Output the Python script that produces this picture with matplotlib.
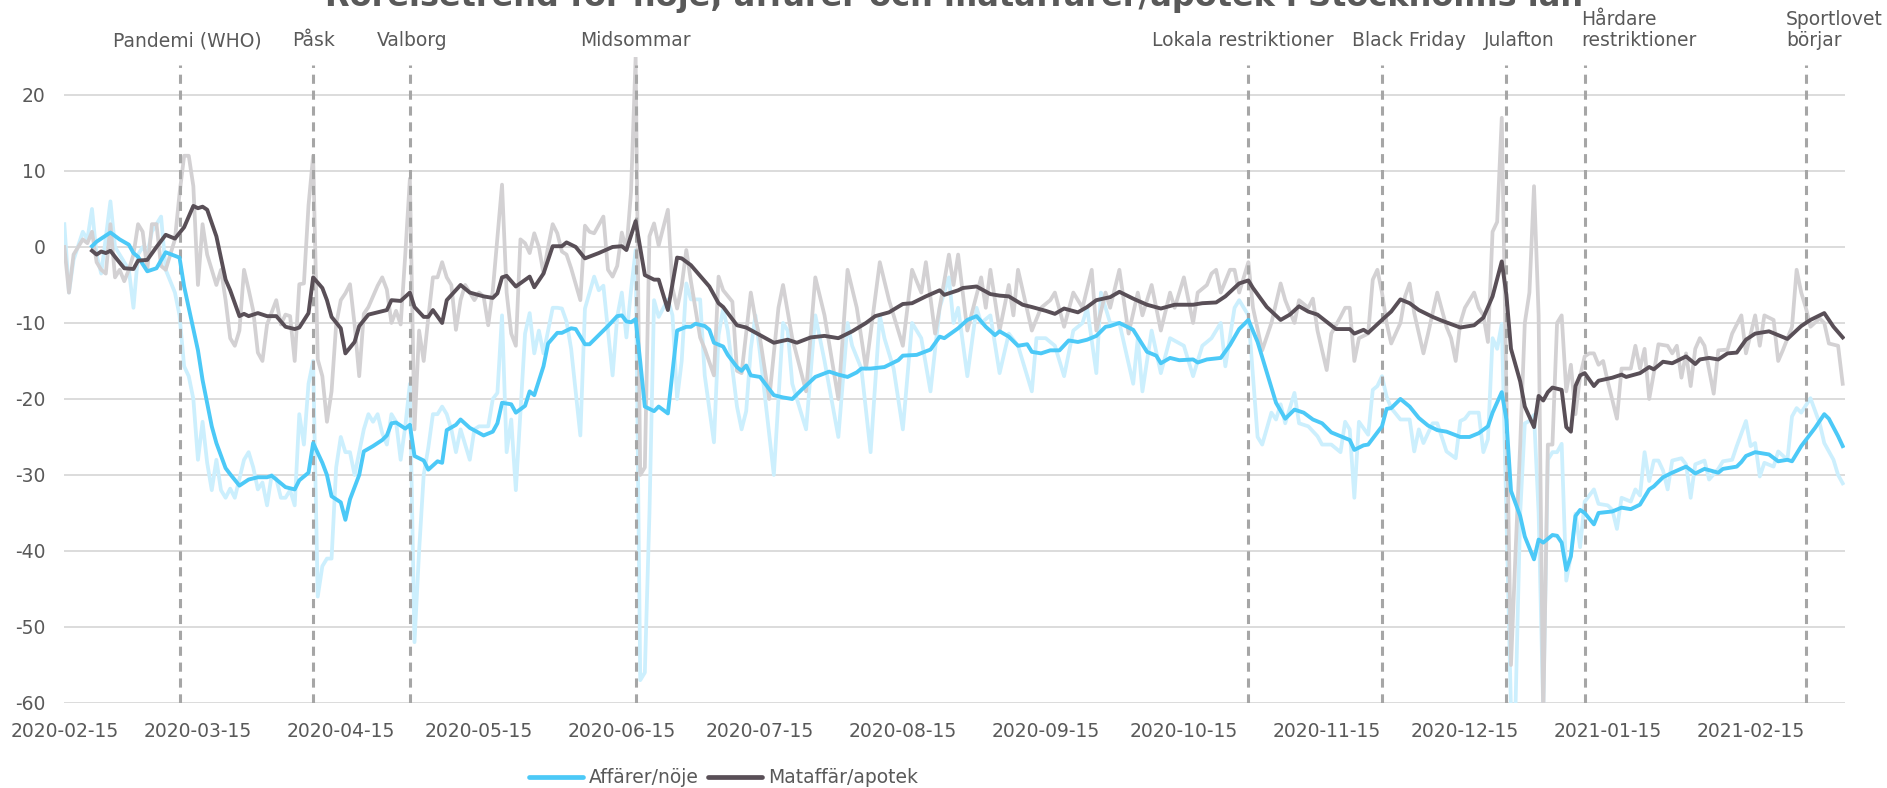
import numpy as np
import pandas as pd
import matplotlib
matplotlib.use("Agg")
import matplotlib.pyplot as plt
import matplotlib.dates as mdates
import matplotlib.transforms as mtransforms

plt.rcParams["font.family"] = ["DejaVu Sans"]
plt.rcParams["axes.unicode_minus"] = False

START = pd.Timestamp("2020-02-15")

# ---------------- data (day offset from 2020-02-15, value) ----------------
aff_daily_day = [0,1,2,4,5,6,7,8,10,11,12,14,15,16,17,18,19,21,22,24,25,26,27,28,29,30,31,32,33,34,35,36,37,39,40,41,42,43,44,45,46,47,48,49,50,
    51,52,53,54,55,56,57,58,59,60,61,62,63,64,65,66,67,68,69,70,71,72,73,74,75,76,77,78,79,80,81,82,83,84,85,86,88,89,90,92,93,94,95,96,97,98,
    100,101,102,103,104,106,107,108,109,110,112,113,115,116,117,118,119,120,121,122,123,124,125,126,127,128,129,131,132,133,134,135,136,138,139,
    141,142,143,144,146,147,148,149,150,151,154,156,157,158,161,163,164,165,168,170,171,173,175,177,178,180,182,184,186,188,190,192,193,194,196,
    198,199,201,203,205,207,210,211,213,215,217,219,221,222,224,225,227,229,232,233,234,236,238,240,243,245,247,249,251,252,254,255,257,258,259,
    260,262,263,264,265,267,268,270,272,273,275,277,278,279,280,281,283,284,285,286,287,288,290,292,293,294,295,297,298,300,302,303,304,305,307,
    308,309,310,311,312,313,314,315,316,317,318,319,320,321,322,323,324,325,326,327,328,329,330,332,333,335,336,337,338,340,341,342,343,344,345,
    346,347,348,349,351,352,353,354,356,357,359,360,362,363,365,366,367,368,369,371,372,374,375,376,377,379,381,382,384,385,386]
aff_daily_val = [3,-6,-1.7,2,1,5,-1,-3.5,6,0,-1,-3,-8,-1,0,-1,2,4,-3,-6,-9,-15.7,-17,-20,-28,-23,-28.4,-32,-28,-32,-33,-31.8,-33,-28,-27,-29,-31.9,-31,-34,-30,-30.5,-33,-33,-32,-34,
    -22,-26,-18,-15,-46,-42,-41,-41,-29,-25,-27,-27,-30,-27,-24,-22,-23,-22,-24.5,-26,-22,-23,-28,-23.6,-18,-52,-40,-30,-26.4,-22,-22,-21,-22,-24,-27,-24,-28,-24,-23.6,-23.6,-20,-19.2,-9,-27,-22.7,-32,
    -11.4,-8.7,-14,-11,-14,-8,-8,-8.1,-9.8,-13.4,-24.8,-8.1,-3.9,-5.7,-5.1,-11,-16.9,-9.2,-6,-11.9,-5.7,-0.4,-57,-56,-35,-7,-9.2,-6.9,-9,-20,-15,-4.8,-6.9,-6.9,-16.9,
    -25.7,-11.6,-8.1,-11,-21,-24,-21.6,-13.4,-9,-14,-30,-10,-11,-18,-24,-9,-12,-15,-25,-10,-13,-16,-27,-9,-12,-16,-24,-10,-12,-19,-8,-4,-10,-8,-17,
    -8,-10,-9,-16.6,-11.4,-13,-19,-12,-12,-13,-17,-11,-10,-8,-16.6,-6,-10,-10,-18,-12,-19,-11,-16.6,-12,-13,-17,-13,-12,-10,-15.7,-8,-7,-9,-17,-25,
    -26,-21.8,-22.7,-20.7,-23.2,-19.2,-23.2,-23.6,-24.9,-26,-26,-27,-23,-24,-33,-23,-24.7,-18.8,-18.3,-17,-19.7,-21.2,-22.7,-22.7,-26.9,-24,-25.8,-23.2,-23.2,-26.9,-27.8,-22.9,-22.6,-21.8,-21.8,
    -27,-25.3,-12,-13.4,-10.1,-35,-61,-60,-35,-23.2,-22.9,-22.1,-35,-61,-28,-27,-27,-25.9,-43.9,-40.6,-35.1,-39.5,-33.5,-31.9,-33.8,-34,-34.6,-37.1,-33,-33.5,-31.9,-32.7,-27,-30.8,-28.1,
    -28.1,-29.4,-31.9,-28.1,-27.8,-28.6,-33,-28.6,-28.1,-30.6,-29.2,-28.2,-28,-26.2,-22.9,-26.2,-25.8,-30.2,-28.4,-28.9,-26.9,-28,-22.3,-21.2,-21.8,-19.9,-23.2,-25.8,-28,-30,-31.1]

mat_daily_day = [0,1,2,4,5,6,7,8,9,10,11,12,13,14,15,16,17,18,19,20,21,22,23,24,25,26,27,28,29,30,31,32,33,34,35,36,37,38,39,40,41,42,43,44,46,47,48,49,50,
    51,52,53,54,55,56,57,58,59,60,61,62,63,64,65,66,68,69,70,71,72,73,74,75,76,77,78,79,80,81,82,83,84,85,86,87,88,89,90,91,92,93,95,96,97,98,99,
    100,101,102,103,104,105,106,107,108,109,110,112,113,114,115,117,118,119,120,121,122,123,124,125,126,127,128,129,131,132,133,134,135,136,138,139,
    141,142,143,145,146,147,149,150,151,153,155,156,158,161,163,165,168,170,172,174,177,179,182,184,186,187,189,192,193,194,196,199,200,201,203,
    205,206,207,210,212,214,215,217,219,221,223,224,226,227,229,231,233,234,236,238,240,241,243,245,246,248,249,250,251,253,254,255,257,258,260,
    262,264,265,267,268,270,271,272,274,275,277,278,279,280,281,283,284,285,286,287,288,290,291,292,293,295,296,297,298,300,301,302,303,304,306,
    307,308,309,310,311,312,313,314,315,316,317,318,319,320,321,322,323,324,325,326,327,328,329,330,331,332,333,334,335,337,338,340,341,342,343,
    344,345,346,348,349,350,351,352,353,354,355,356,358,359,361,362,364,365,367,368,369,371,372,373,375,376,377,378,379,381,382,383,385,386]
mat_daily_val = [0,-6,-1,1,0.5,2,-2,-3,-3.5,3,-4,-3,-4.5,-3,-1,3,2,-3,3,3,-2.5,-3,-1,1,7,12,12,8,-5,3,-1,-3,-5,-3,-7,-12,-13,-11,-3,-5.6,-8.4,-13.9,-15,-10.2,-7,-10.2,-8.9,-9.1,-15,
    -4.9,-4.8,5.5,12,-14.8,-17,-23,-19,-10.2,-7,-6.1,-4.9,-10.2,-17,-8.8,-7.9,-5.1,-4,-5.6,-10,-8.4,-10.2,-1,9,-24,-11,-15,-9.3,-4,-4,-2,-4,-5,-10.9,-7,-5,-6,-7,-6,-6.5,-10.3,-5.7,8.2,-6,-11.4,-13,1,
    0.5,-0.8,1.8,0,-3.5,0,3,1.8,-0.6,-1,-2.8,-7,2.8,2,1.8,4,-3,-3.9,-2.5,1.9,-0.4,7.2,25,-30,-29,1.4,3.1,0.2,4.9,-5.4,-8.1,-5.1,-0.4,-4.5,-11.9,-13.4,
    -16.9,-3.9,-5.7,-7.2,-16.3,-16.6,-6,-9.5,-12,-20,-8,-5,-12,-19,-4,-9,-20,-3,-8,-16,-2,-7,-13,-3,-6,-2,-11.4,-1,-5,-1,-11,-4,-8,-3,-11,
    -5,-9,-3,-11,-8,-7,-6,-10.5,-6,-8,-3,-11,-6,-8,-3,-11.4,-6,-9,-5,-11,-6,-8,-4,-10,-6,-5,-3.5,-3,-6,-3,-3,-6,-2,-8,-13.6,
    -10,-4.8,-7,-10,-7,-8,-6.8,-11,-16.2,-11.4,-9.2,-8,-8,-15,-12,-11.4,-4.3,-3,-6,-10,-12.7,-10,-6.5,-4.8,-8.7,-14,-11.4,-8.7,-6,-10.5,-12,-15,-10,-8,-6,
    -8,-9,-12.5,2,3.3,17,-19,-55,-40,-26,-10,-6,8,-9,-62,-26,-26,-10,-9,-19,-15.5,-22,-17,-14.4,-14,-14,-15.5,-15,-17.7,-22.6,-16,-16,-13,-16,-13.4,
    -20,-16.6,-12.8,-13,-14,-13,-17.2,-14,-18.3,-13.4,-12,-13,-19.3,-13.6,-13.5,-11.4,-9,-14,-9,-13,-9,-9.6,-15,-13.6,-10.5,-3,-6,-8,-10.5,-9.4,-10,-12.7,-13,-18]

aff_7d_day = [6,7,10,12,14,15,16,18,20,22,25,26,29,30,32,33,35,36,38,39,40,42,44,45,48,50,51,53,54,56,57,58,60,61,62,64,65,67,69,70,71,72,74,75,76,78,79,81,82,83,85,86,88,91,93,94,95,97,98,
    100,101,102,104,105,107,108,110,111,113,114,116,118,120,121,122,123,124,125,126,128,129,131,133,135,136,137,139,140,141,143,144,146,147,148,149,151,152,154,156,158,160,163,166,168,170,172,173,175,178,
    181,182,185,188,190,191,194,196,198,200,202,203,205,207,209,210,212,214,216,218,220,222,224,226,227,229,232,235,237,238,240,242,245,246,248,251,253,255,257,259,261,263,265,267,269,271,273,275,277,279,280,282,283,
    286,287,288,290,292,294,296,298,300,303,305,307,309,310,312,313,314,316,317,319,320,321,323,324,325,326,327,328,329,330,332,333,336,338,340,342,344,345,347,349,352,354,356,359,360,363,364,365,367,370,372,374,375,377,380,382,383,385,386]
aff_7d_val = [0.1,0.7,1.9,1.0,0.3,-0.8,-1.3,-3.2,-2.8,-0.7,-1.4,-5.2,-13.6,-17.5,-23.6,-25.8,-29.1,-29.9,-31.4,-31.0,-30.6,-30.3,-30.3,-30.1,-31.6,-31.9,-30.7,-29.7,-25.8,-28.4,-30.0,-32.8,-33.6,-35.9,-33.2,-30.0,-26.9,-26.2,-25.4,-24.8,-23.2,-23.1,-23.9,-23.4,-27.5,-28.1,-29.3,-28.2,-28.4,-24.1,-23.4,-22.7,-23.8,-24.8,-24.3,-23.2,-20.5,-20.7,-21.8,
    -20.9,-19.0,-19.5,-15.7,-12.7,-11.3,-11.3,-10.7,-10.8,-12.8,-12.8,-11.6,-10.4,-9.1,-9.0,-9.8,-9.9,-9.5,-15.1,-21.0,-21.6,-21.0,-21.9,-11.0,-10.5,-10.5,-10.1,-10.4,-10.9,-12.6,-13.1,-14.2,-15.8,-16.3,-15.6,-16.9,-17.1,-17.9,-19.5,-19.8,-20.0,-18.8,-17.1,-16.4,-16.8,-17.1,-16.5,-16.0,-16.0,-15.8,
    -14.9,-14.3,-14.2,-13.5,-11.8,-12.0,-10.7,-9.6,-9.1,-10.5,-11.6,-11.1,-11.8,-13.0,-12.8,-13.8,-14.0,-13.6,-13.6,-12.3,-12.5,-12.2,-11.7,-10.5,-10.4,-10.0,-10.9,-13.8,-14.3,-15.3,-14.6,-14.9,-14.8,-15.2,-14.8,-14.6,-12.9,-10.8,-9.6,-12.5,-16.5,-20.5,-22.6,-21.4,-21.8,-22.7,-23.2,-24.4,-24.9,-25.4,-26.7,-26.1,-26.0,
    -23.6,-21.3,-21.2,-20.0,-21.0,-22.5,-23.5,-24.1,-24.3,-25.0,-25.0,-24.5,-23.6,-21.8,-19.1,-22.7,-32.1,-35.4,-38.1,-41.1,-38.5,-38.9,-37.9,-38.0,-38.9,-42.5,-40.7,-35.4,-34.6,-35.0,-36.5,-35.0,-34.8,-34.3,-34.5,-33.9,-31.9,-31.5,-30.3,-29.7,-28.9,-29.8,-29.2,-29.7,-29.2,-28.9,-28.3,-27.5,-27.0,-27.3,-28.2,-28.0,-28.2,-26.2,-23.8,-22.0,-22.6,-24.9,-26.2]

mat_7d_day = [6,7,8,9,10,11,13,15,16,18,20,22,24,26,28,29,30,31,33,35,36,38,39,40,42,44,46,48,50,51,53,54,56,57,58,60,61,63,64,66,68,70,71,73,75,76,78,79,80,82,83,86,88,91,93,94,95,96,98,
    101,102,104,106,108,109,111,113,116,119,121,122,124,126,128,129,131,133,134,136,140,142,143,146,148,151,154,157,159,162,165,168,171,174,176,179,182,184,187,190,191,194,195,198,
    201,203,205,208,210,213,215,217,220,222,224,227,229,232,235,238,241,245,247,250,252,255,257,258,261,264,266,268,270,272,276,279,280,282,283,286,288,290,292,294,297,299,
    303,306,308,310,312,313,314,316,317,319,320,321,322,323,325,326,327,328,329,330,332,333,336,338,339,342,344,345,347,349,350,352,354,355,357,359,361,363,365,367,370,372,374,377,379,382,384,386]
mat_7d_val = [-0.5,-1.0,-0.6,-0.8,-0.5,-1.3,-2.8,-2.9,-1.8,-1.7,0.0,1.6,1.1,2.6,5.4,5.1,5.3,4.9,1.4,-4.3,-5.7,-9.1,-8.8,-9.1,-8.7,-9.1,-9.1,-10.5,-10.8,-10.6,-8.7,-4.0,-5.4,-7.0,-9.2,-10.7,-14.0,-12.5,-10.4,-8.9,-8.6,-8.3,-7.0,-7.1,-6.0,-7.9,-9.2,-9.2,-8.3,-10.0,-7.0,-5.0,-6.0,-6.5,-6.7,-6.1,-4.0,-3.8,-5.2,
    -3.9,-5.3,-3.5,0.1,0.1,0.6,0.0,-1.5,-0.8,0.0,0.1,-0.4,3.4,-3.7,-4.3,-4.3,-8.3,-1.4,-1.5,-2.4,-5.2,-7.4,-7.9,-10.3,-10.6,-11.6,-12.6,-12.2,-12.6,-11.9,-11.7,-12.0,-11.1,-10.0,-9.1,-8.6,-7.5,-7.4,-6.5,-5.7,-6.3,-5.7,-5.4,-5.2,
    -6.2,-6.4,-6.5,-7.6,-7.9,-8.4,-8.8,-8.1,-8.6,-7.9,-7.0,-6.6,-5.9,-6.8,-7.6,-8.1,-7.6,-7.6,-7.4,-7.3,-6.5,-4.8,-4.4,-5.4,-7.9,-9.6,-8.9,-7.8,-8.5,-8.9,-10.8,-10.8,-11.4,-10.9,-11.3,-9.6,-8.5,-6.9,-7.4,-8.3,-9.2,-9.7,
    -10.6,-10.3,-9.3,-6.5,-1.9,-6.3,-13.4,-17.7,-21.0,-23.7,-19.6,-20.2,-19.1,-18.5,-18.8,-23.7,-24.3,-18.3,-16.9,-16.6,-18.3,-17.6,-17.2,-16.8,-17.1,-16.6,-15.8,-16.1,-15.1,-15.3,-15.0,-14.4,-15.4,-14.8,-14.6,-14.8,-14.0,-13.9,-12.2,-11.4,-11.1,-11.6,-12.1,-10.4,-9.6,-8.7,-10.5,-11.9]

event_dates = ["2020-03-11", "2020-04-09", "2020-04-30", "2020-06-18", "2020-10-29",
               "2020-11-27", "2020-12-24", "2021-01-10", "2021-02-27"]
event_labels = ["Pandemi (WHO)", "Påsk", "Valborg", "Midsommar", "Lokala restriktioner",
                "Black Friday", "Julafton", "Hårdare\nrestriktioner", "Sportlovet\nbörjar"]

series_labels = ["Affärer/nöje", "Mataffär/apotek"]
title = "Rörelsetrend för nöje, affärer och mataffärer/apotek i Stockholms län"

# ---------------- styling ----------------
C_AFF = "#4CC9F7"
C_AFF_RAW = "#CCEFFD"
C_MAT = "#594F57"
C_MAT_RAW = "#D3D1D3"
C_TEXT = "#595959"
C_GRID = "#D9D9D9"
C_EVENT = "#A6A6A6"
FS = 13.5


def to_dates(days):
    return START + pd.to_timedelta(np.asarray(days, dtype=float), unit="D")


fig = plt.figure(figsize=(18.87, 7.88), dpi=100)
ax = fig.add_axes([0.0341, 0.1079, 0.9434, 0.8198])

ax.set_ylim(-60, 25)
ax.set_xlim(START, START + pd.Timedelta(days=386.4))
ax.set_yticks(np.arange(-60, 21, 10))
ax.yaxis.grid(True, color=C_GRID, lw=1.3, zorder=0)
ax.set_axisbelow(True)
for s in ax.spines.values():
    s.set_visible(False)

ax.plot(to_dates(aff_daily_day), aff_daily_val, color=C_AFF_RAW, lw=2.7, zorder=2,
        solid_joinstyle="round")
ax.plot(to_dates(mat_daily_day), mat_daily_val, color=C_MAT_RAW, lw=2.7, zorder=2,
        solid_joinstyle="round")

# event lines + labels
trans = mtransforms.blended_transform_factory(ax.transData, ax.transAxes)
label_shift_days = [1.7, 0.0, 0.4, 0.0, -1.3, 5.9, 2.7, -0.7, -4.3]
for d, lab, sh in zip(event_dates, event_labels, label_shift_days):
    dt = pd.Timestamp(d)
    ax.plot([dt, dt], [-60, 24], color=C_EVENT, lw=2.2, linestyle=(0, (3.0, 2.2)),
            zorder=3)
    multi = "\n" in lab
    ax.text(dt + pd.Timedelta(days=sh), 1.0102, lab, transform=trans,
            ha="left" if multi else "center", va="bottom", fontsize=FS,
            color=C_TEXT, linespacing=1.15, clip_on=False)

l1, = ax.plot(to_dates(aff_7d_day), aff_7d_val, color=C_AFF, lw=2.8, zorder=4,
              solid_joinstyle="round", label=series_labels[0])
l2, = ax.plot(to_dates(mat_7d_day), mat_7d_val, color=C_MAT, lw=2.8, zorder=5,
              solid_joinstyle="round", label=series_labels[1])

ax.xaxis.set_major_locator(mdates.MonthLocator(bymonthday=15))
ax.xaxis.set_major_formatter(mdates.DateFormatter("%Y-%m-%d"))
ax.tick_params(axis="x", length=0, pad=13.5, labelsize=FS, labelcolor=C_TEXT)
ax.tick_params(axis="y", length=0, pad=13.3, labelsize=FS, labelcolor=C_TEXT)

leg = fig.legend(handles=[l1, l2], loc="center", bbox_to_anchor=(0.3834, 0.0127),
                 ncol=2, frameon=False, fontsize=FS, handlelength=2.9,
                 handletextpad=0.3, columnspacing=0.5, borderpad=0, borderaxespad=0)
for t in leg.get_texts():
    t.set_color(C_TEXT)
for h in leg.get_lines():
    h.set_linewidth(3.4)
    h.set_solid_capstyle("round")

fig.text(0.5058, 1 - 6 / 788, title, ha="center", va="baseline", fontsize=23,
         fontweight="bold", color=C_TEXT)

fig.savefig("out.png", dpi=100, facecolor="white")
